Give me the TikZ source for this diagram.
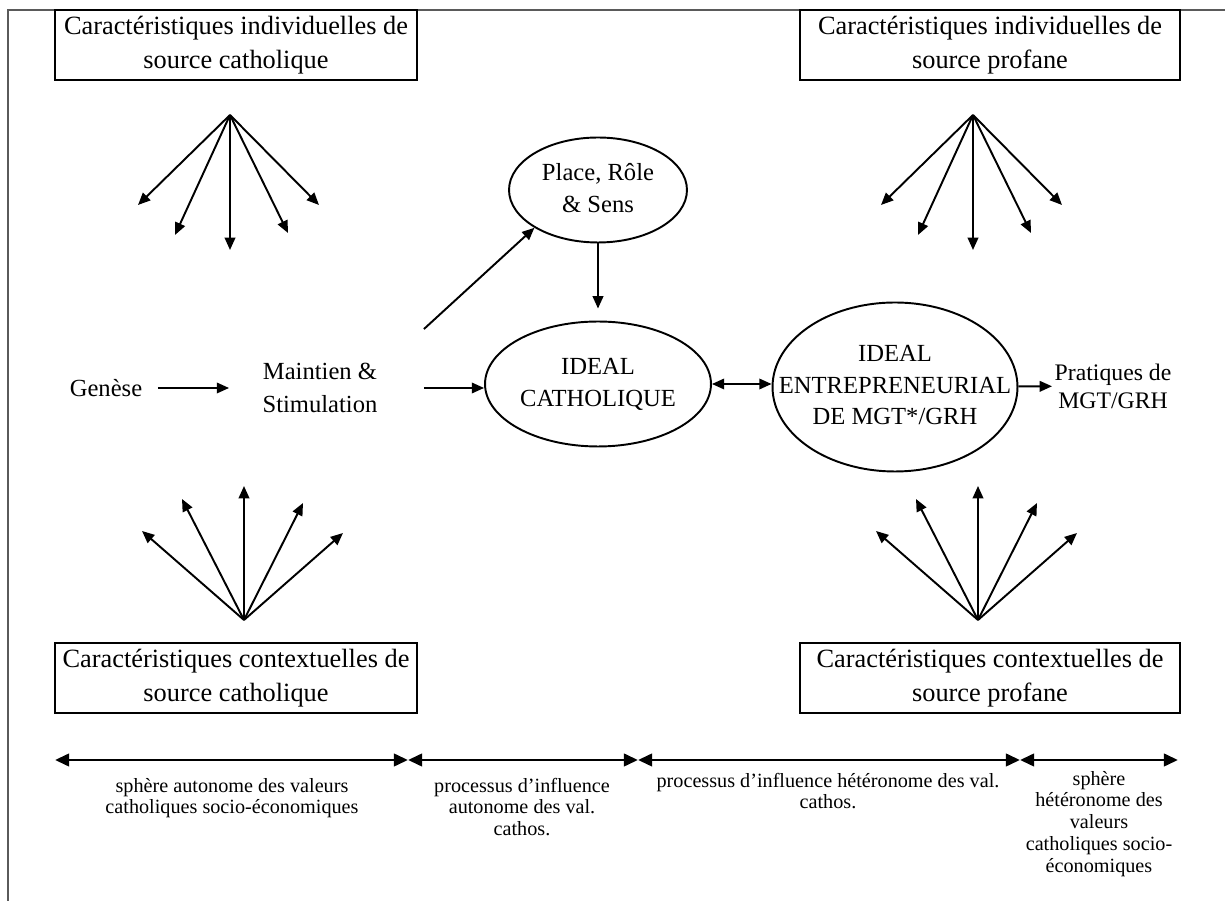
\documentclass[tikz,border=0pt]{standalone}
\usepackage{fontspec}
\setmainfont{Liberation Serif}
\usetikzlibrary{arrows.meta,positioning,calc,shapes.geometric}
\newcommand{\ovaltext}[1]{\makebox[0pt]{\begin{tabular}{@{}c@{}}#1\end{tabular}}}
\tikzset{
  >=Triangle,
  every picture/.append style={line width=1.1pt},
}
\tikzset{
  box/.style={draw, line width=1.3pt, align=center, inner sep=0pt, minimum height=1.4cm, font=\fontsize{15}{19}\selectfont},
  arrow/.style={-{Triangle[length=7pt,width=6pt]}},
  lbl/.style={align=center, inner sep=1pt, font=\fontsize{14}{18.5}\selectfont}
}
\begin{document}
\begin{tikzpicture}[
    x=0.02cm, y=-0.02cm,
    oval/.style={
        draw,
        ellipse,
        inner sep=0pt,
        font=\fontsize{14}{18}\selectfont
    },
    scalearrow/.style={
        {Triangle[length=8pt,width=7pt]}-{Triangle[length=8pt,width=7pt]},
        line width=1.7pt
    },
    zone/.style={
        anchor=north,
        align=center,
        inner sep=0pt,
        font=\fontsize{11.5}{12.4}\selectfont
    }
]
\definecolor{framegray}{RGB}{90,90,90}
\useasboundingbox (0,0) rectangle (1225,901);

% page frame
\draw[framegray, line width=0.9pt] (1225,10) -- (8,10) -- (8,901);

% source boxes
\node[box, minimum width=7.24cm] (indcath) at (236,45) {Caractéristiques individuelles de\\source catholique};
\node[box, minimum width=7.6cm] (indprof) at (990,45) {Caractéristiques individuelles de\\source profane};
\node[box, minimum width=7.24cm] (ctxcath) at (236,678) {Caractéristiques contextuelles de\\source catholique};
\node[box, minimum width=7.6cm] (ctxprof) at (990,678) {Caractéristiques contextuelles de\\source profane};

% chain
\node[lbl] (genese) at (106,388) {Genèse};
\node[lbl, minimum width=4.12cm, minimum height=2.32cm] (maintien) at (320,388) {Maintien \&\\Stimulation};
\node[oval, minimum width=3.56cm, minimum height=2.1cm] (place) at (598,190) {\ovaltext{Place, Rôle\\\& Sens}};
\node[oval, minimum width=4.52cm, minimum height=2.5cm] (idcath) at (598,384) {\ovaltext{IDEAL\\CATHOLIQUE}};
\node[oval, minimum width=4.9cm, minimum height=3.38cm] (identr) at (895,387) {\ovaltext{IDEAL\\ENTREPRENEURIAL\\DE MGT*/GRH}};
\node[lbl, anchor=west, font=\fontsize{13.5}{16}\selectfont] (pratiques) at (1052,386) {Pratiques de\\MGT/GRH};

\draw[arrow, shorten <=0.26cm, shorten >=-0.26cm] (genese) -- (maintien);
\draw[arrow] (maintien.north east) -- (place.south west);
\draw[arrow] (maintien.east) -- (maintien.east -| idcath.west);
\draw[arrow, shorten >=0.24cm] (place) -- (idcath);
\draw[{Triangle[length=7pt,width=6pt]}-{Triangle[length=7pt,width=6pt]}] (idcath.east) -- (idcath.east -| identr.west);
\draw[arrow] (identr) -- (pratiques);

% fans
\coordinate (tlfan) at (230,115);
\coordinate (trfan) at (973,115);
\coordinate (blfan) at (244,620);
\coordinate (brfan) at (978,620);
\foreach \fan in {tlfan,trfan}
  \foreach \dx/\dy [count=\i] in {-92/90,-55/120,0/135,58/118,89/90}
    \draw[arrow] (\fan) -- ++(\dx,\dy) coordinate (\fan\i);
\foreach \fan in {blfan,brfan}
  \foreach \dx/\dy [count=\i] in {-102/-89,-62/-121,0/-134,59/-117,99/-87}
    \draw[arrow] (\fan) -- ++(\dx,\dy) coordinate (\fan\i);

% spheres scale
\foreach \x [count=\i from 0] in {55,408,638,1020,1178}
  \coordinate (s\i) at (\x,760);
\foreach \a/\b in {0/1,1/2,2/3,3/4}
  \draw[scalearrow] (s\a) -- (s\b);

\node[zone] (zone1) at (232,777) {sphère autonome des valeurs\\catholiques socio-économiques};
\node[zone] (zone2) at (522,777) {processus d'influence\\autonome des val.\\cathos.};
\node[zone] (zone3) at (828,772) {processus d'influence hétéronome des val.\\cathos.};
\node[zone] (zone4) at (1099,770) {sphère\\hétéronome des\\valeurs\\catholiques socio-\\économiques};
\end{tikzpicture}
\end{document}
